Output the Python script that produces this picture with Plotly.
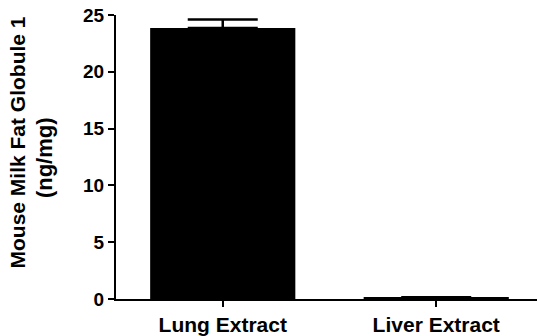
import plotly.graph_objects as go

categories = ["Lung Extract", "Liver Extract"]
values = [23.85, 0.15]
errors = [0.75, 0.0]
y_ticks = [0, 5, 10, 15, 20, 25]
y_title_line1 = "Mouse Milk Fat Globule 1"
y_title_line2 = "(ng/mg)"

fig = go.Figure()
fig.add_trace(go.Bar(
    x=categories, y=values, width=0.68,
    marker=dict(color="black", line=dict(color="black", width=0)),
    error_y=dict(type="data", array=errors, arrayminus=[0, 0], symmetric=False,
                 color="black", thickness=2.5, width=35, visible=True),
))

font_family = "Liberation Sans, Arial, sans-serif"
fig.update_layout(
    width=537, height=336,
    margin=dict(l=116, r=0, t=15, b=37),
    paper_bgcolor="white", plot_bgcolor="white",
    showlegend=False,
    xaxis=dict(type="category", range=[-0.5, 1.472], showline=True, linecolor="black",
               linewidth=2, ticks="outside", ticklen=6, tickwidth=2, tickcolor="black",
               tickfont=dict(family=font_family, size=21, color="black", weight="bold"),
               showgrid=False, zeroline=False),
    yaxis=dict(range=[0, 25], tickvals=y_ticks, showline=True, linecolor="black",
               linewidth=2, ticks="outside", ticklen=6, tickwidth=2, tickcolor="black",
               tickfont=dict(family=font_family, size=19, color="black", weight="bold"),
               showgrid=False, zeroline=False),
    annotations=[
        dict(text=y_title_line1, xref="paper", yref="paper", x=-0.2328, y=0.551,
             xanchor="center", yanchor="middle", textangle=-90, showarrow=False,
             font=dict(family=font_family, size=21, color="black", weight="bold")),
        dict(text=y_title_line2, xref="paper", yref="paper", x=-0.1698, y=0.498,
             xanchor="center", yanchor="middle", textangle=-90, showarrow=False,
             font=dict(family=font_family, size=22, color="black", weight="bold")),
    ],
)

fig.write_html("out.html")
